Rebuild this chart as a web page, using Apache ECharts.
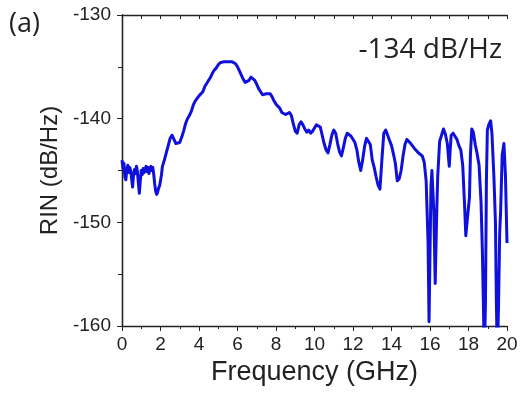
<!DOCTYPE html>
<html>
<head>
<meta charset="utf-8">
<script src="https://cdn.jsdelivr.net/npm/echarts@6/dist/echarts.min.js"></script>
<style>
  html, body { margin: 0; padding: 0; background: #fff; }
  #chart { width: 521px; height: 393px; }
</style>
</head>
<body>
<div id="chart"></div>
<script>
// RIN spectrum: frequency (GHz) and relative intensity noise (dB/Hz)
const freq = [
  0.0, 0.05, 0.1, 0.15, 0.2, 0.25, 0.3, 0.35, 0.4, 0.45,
  0.5, 0.55, 0.6, 0.65, 0.7, 0.75, 0.8, 0.85, 0.9, 0.95,
  1.0, 1.05, 1.1, 1.15, 1.2, 1.25, 1.3, 1.35, 1.4, 1.45,
  1.5, 1.55, 1.6, 1.65, 1.7, 1.75, 1.8, 1.85, 1.9, 1.95,
  2.0, 2.05, 2.1, 2.2, 2.3, 2.4, 2.5, 2.6, 2.7, 2.8, 2.9,
  3.0, 3.1, 3.2, 3.3, 3.4, 3.5, 3.6, 3.7, 3.8, 3.9,
  4.0, 4.1, 4.2, 4.3, 4.4, 4.5, 4.6, 4.7, 4.8, 4.9,
  5.0, 5.1, 5.2, 5.3, 5.4, 5.5, 5.6, 5.7, 5.8, 5.9,
  6.0, 6.1, 6.2, 6.3, 6.4, 6.5, 6.6, 6.7, 6.8, 6.9,
  7.0, 7.1, 7.2, 7.3, 7.4, 7.5, 7.6, 7.7, 7.8, 7.9,
  8.0, 8.1, 8.2, 8.3, 8.4, 8.5, 8.6, 8.7, 8.8, 8.9,
  9.0, 9.1, 9.2, 9.3, 9.4, 9.5, 9.6, 9.7, 9.8, 9.9,
  10.0, 10.1, 10.2, 10.3, 10.4, 10.5, 10.6, 10.7, 10.8, 10.9,
  11.0, 11.1, 11.2, 11.3, 11.4, 11.5, 11.6, 11.7, 11.8, 11.9,
  12.0, 12.1, 12.2, 12.3, 12.4, 12.5, 12.6, 12.7, 12.8, 12.9,
  13.0, 13.1, 13.2, 13.3, 13.4, 13.5, 13.6, 13.7, 13.8, 13.9,
  14.0, 14.1, 14.2, 14.3, 14.4, 14.5, 14.6, 14.7, 14.8, 14.9,
  15.0, 15.1, 15.2, 15.3, 15.4, 15.5, 15.6, 15.7, 15.8, 15.9,
  15.95, 16.0, 16.05, 16.1, 16.2, 16.27, 16.35, 16.4, 16.5, 16.6,
  16.7, 16.8, 16.9, 17.0, 17.05, 17.1, 17.2, 17.3, 17.4, 17.5,
  17.6, 17.7, 17.8, 17.86, 17.95, 18.05, 18.1, 18.17, 18.25, 18.35,
  18.45, 18.55, 18.65, 18.72, 18.78, 18.82, 18.88, 18.93, 18.98, 19.05,
  19.15, 19.22, 19.32, 19.4, 19.45, 19.5, 19.56, 19.62, 19.67, 19.75,
  19.84, 19.92, 20.0
];
const rin = [
  -144.0, -144.8, -144.3, -145.6, -145.9, -144.9, -144.5, -145.2, -144.7, -145.0,
  -145.8, -146.6, -145.4, -144.9, -145.3, -144.6, -145.1, -146.2, -147.2, -146.0,
  -145.0, -145.4, -144.8, -145.2, -145.0, -144.6, -145.1, -144.7, -145.3, -144.8,
  -144.6, -145.0, -144.7, -145.4, -146.3, -147.0, -147.3, -147.1, -146.7, -146.5,
  -146.0, -145.4, -144.6, -144.0, -143.3, -142.6, -141.9, -141.6, -142.0, -142.4, -142.5,
  -142.3, -141.8, -141.2, -140.5, -140.0, -139.7, -139.3, -138.7, -138.3, -138.2,
  -137.8, -137.6, -137.4, -136.9, -136.6, -136.3, -136.0, -135.6, -135.3, -135.1,
  -134.8, -134.6, -134.6, -134.5, -134.6, -134.5, -134.6, -134.5, -134.6, -134.7,
  -135.0, -135.4, -135.8, -136.2, -136.5, -136.6, -136.3, -136.0, -136.0, -136.3,
  -136.7, -137.1, -137.4, -137.7, -137.8, -137.6, -137.5, -137.6, -137.9, -138.3,
  -138.6, -138.8, -139.0, -139.4, -139.5, -139.6, -139.5, -139.4, -139.7, -140.5,
  -141.2, -141.4, -140.6, -140.3, -140.6, -141.0, -141.3, -141.1, -141.4, -141.2,
  -140.9, -140.6, -140.5, -140.8, -141.6, -142.4, -143.0, -143.3, -142.5, -141.6,
  -141.1, -141.4, -142.4, -143.2, -143.6, -142.8, -141.9, -141.4, -141.5, -141.7,
  -141.8, -142.3, -143.0, -144.2, -145.0, -144.0, -142.7, -141.9, -141.9, -142.5,
  -144.0, -144.7, -145.6, -146.4, -146.8, -144.0, -141.4, -141.1, -141.6, -142.1,
  -142.6, -143.4, -144.3, -146.0, -145.8, -145.0, -143.6, -142.5, -142.0, -142.1,
  -142.4, -142.5, -142.9, -143.1, -143.3, -143.4, -143.6, -144.2, -146.0, -152.0,
  -159.6, -153.0, -146.5, -145.0, -149.0, -155.9, -149.0, -145.6, -142.2, -141.6,
  -141.0, -141.5, -142.4, -144.6, -143.0, -141.6, -141.4, -141.3, -142.0, -142.6,
  -143.0, -144.5, -148.5, -151.3, -149.5, -147.6, -143.5, -141.0, -141.3, -142.5,
  -143.4, -144.5, -148.0, -152.7, -158.5, -163.0, -158.0, -146.0, -141.1, -140.6,
  -140.2, -141.5, -145.6, -150.0, -158.0, -163.0, -158.0, -151.0, -148.9, -143.5,
  -142.4, -145.5, -152.0
];

// Tick values and text shown on the chart
const xMin = 0, xMax = 20, xStep = 2;
const yMin = -160, yMax = -130, yStep = 10;
const panelTag = '(a)';
const peakNote = '-134 dB/Hz';

const axisColor = '#222';
const axisFont = 'Liberation Sans';

const chart = echarts.init(document.getElementById('chart'), null, { renderer: 'canvas' });

const frameAxis = {
  axisLine: { show: true, lineStyle: { color: axisColor, width: 1.3 } },
  axisTick: { show: true, inside: true, length: 4, lineStyle: { color: axisColor, width: 1 } },
  minorTick: { show: true, splitNumber: 2, length: 4, lineStyle: { color: axisColor, width: 1 } },
  axisLabel: { show: false },
  splitLine: { show: false }
};

chart.setOption({
  animation: false,
  backgroundColor: '#fff',
  grid: { left: 122, right: 14, top: 15, bottom: 67, containLabel: false },
  xAxis: [
    {
      type: 'value', min: xMin, max: xMax, interval: xStep, position: 'bottom',
      name: 'Frequency (GHz)', nameLocation: 'middle', nameGap: 33,
      nameTextStyle: { fontFamily: axisFont, fontSize: 27, color: '#222' },
      axisLine: { show: true, onZero: false, lineStyle: { color: axisColor, width: 1.3 } },
      axisTick: { show: true, inside: false, length: 5, lineStyle: { color: axisColor, width: 1 } },
      minorTick: { show: true, splitNumber: 2, length: 3, lineStyle: { color: axisColor, width: 1 } },
      axisLabel: { fontFamily: axisFont, fontSize: 19, color: '#222', margin: 9 },
      splitLine: { show: false }
    },
    Object.assign({ type: 'value', min: xMin, max: xMax, interval: xStep, position: 'top' }, frameAxis)
  ],
  yAxis: [
    {
      type: 'value', min: yMin, max: yMax, interval: yStep, position: 'left',
      name: 'RIN (dB/Hz)', nameLocation: 'middle', nameGap: 60, nameRotate: 90,
      nameTextStyle: { fontFamily: axisFont, fontSize: 24, color: '#222' },
      axisLine: { show: true, onZero: false, lineStyle: { color: axisColor, width: 1.3 } },
      axisTick: { show: true, inside: false, length: 5, lineStyle: { color: axisColor, width: 1 } },
      minorTick: { show: true, splitNumber: 2, length: 4, lineStyle: { color: axisColor, width: 1 } },
      axisLabel: { fontFamily: axisFont, fontSize: 19, color: '#222', margin: 11 },
      splitLine: { show: false }
    },
    Object.assign({ type: 'value', min: yMin, max: yMax, interval: yStep, position: 'right' }, frameAxis)
  ],
  series: [{
    type: 'line',
    xAxisIndex: 0,
    yAxisIndex: 0,
    data: freq.map((f, i) => [f, rin[i]]),
    showSymbol: false,
    symbol: 'none',
    clip: true,
    lineStyle: { color: '#1010dc', width: 3, join: 'round' }
  }],
  graphic: [
    {
      type: 'text', left: 9, top: 11,
      style: { text: panelTag, font: '27px "Open Sans"', fill: '#222' }
    },
    {
      type: 'text', right: 19, top: 36,
      style: { text: peakNote, font: '28px "Open Sans"', fill: '#222' }
    }
  ]
});
</script>
</body>
</html>
